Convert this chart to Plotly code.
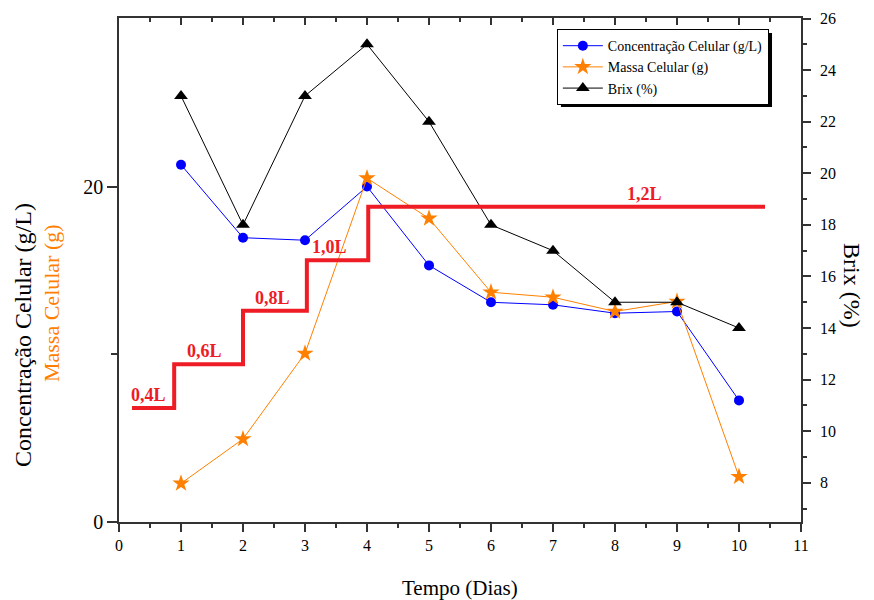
import plotly.graph_objects as go

dias = [1, 2, 3, 4, 5, 6, 7, 8, 9, 10]
concentracao = [21.3, 16.95, 16.8, 20.0, 15.3, 13.1, 12.95, 12.45, 12.55, 7.25]
massa = [2.3, 4.95, 10.05, 20.5, 18.1, 13.7, 13.4, 12.55, 13.15, 2.7]
brix = [23, 18, 23, 25, 22, 18, 17, 15, 15, 14]

volume_x = [0.21, 0.89, 2.0, 3.03, 4.02, 10.42]
volume_y = [6.8, 9.4, 12.6, 15.6, 18.8, 18.8]
volume_labels = ["0,4L", "0,6L", "0,8L", "1,0L", "1,2L"]
label_x = [0.47, 1.38, 2.47, 3.4, 8.48]
label_y = [6.8, 9.4, 12.6, 15.6, 18.8]

FONT = "Liberation Serif"
ORANGE = "#FF8000"
RED = "#EE1C25"

fig = go.Figure()

fig.add_trace(go.Scatter(
    x=volume_x, y=volume_y, mode="lines", line=dict(color=RED, width=4, shape="hv"),
    xaxis="x2", yaxis="y", showlegend=False, hoverinfo="skip"))

fig.add_trace(go.Scatter(
    x=dias, y=concentracao, name="Concentração Celular (g/L)", mode="lines+markers",
    line=dict(color="#0000FF", width=1), marker=dict(symbol="circle", size=10, color="#0000FF")))

fig.add_trace(go.Scatter(
    x=dias, y=massa, name="Massa Celular (g)", mode="lines+markers",
    line=dict(color=ORANGE, width=1), marker=dict(symbol="star", size=13, color=ORANGE)))

fig.add_trace(go.Scatter(
    x=dias, y=brix, name="Brix (%)", mode="lines+markers", yaxis="y2",
    line=dict(color="black", width=1), marker=dict(symbol="triangle-up", size=12, color="black")))

annotations = []
for lx, ly, t in zip(label_x, label_y, volume_labels):
    annotations.append(dict(x=lx, y=ly, xref="x", yref="y", text=t, showarrow=False,
                            xanchor="center", yanchor="bottom", yshift=1,
                            font=dict(family=FONT, size=18, color=RED, weight="bold")))

annotations += [
    dict(x=-0.1408, y=0.371, xref="paper", yref="paper", text="Concentração Celular (g/L)",
         xanchor="center", yanchor="middle",
         textangle=-90, showarrow=False, font=dict(family=FONT, size=24, color="black")),
    dict(x=-0.0997, y=0.4345, xref="paper", yref="paper", text="Massa Celular (g)",
         xanchor="center", yanchor="middle",
         textangle=-90, showarrow=False, font=dict(family=FONT, size=22, color=ORANGE)),
    dict(x=1.0748, y=0.47, xref="paper", yref="paper", text="Brix (%)",
         xanchor="center", yanchor="middle",
         textangle=90, showarrow=False, font=dict(family=FONT, size=24, color="black")),
    dict(x=0.5, y=-0.131, xref="paper", yref="paper", text="Tempo (Dias)",
         xanchor="center", yanchor="middle",
         showarrow=False, font=dict(family=FONT, size=21, color="black")),
]

axis_color = "#333333"

fig.update_layout(
    width=866, height=592,
    margin=dict(l=111, r=73, t=10, b=78),
    paper_bgcolor="white", plot_bgcolor="white",
    font=dict(family=FONT, color="black"),
    showlegend=True,
    legend=dict(x=0.642, y=0.978, xanchor="left", yanchor="top",
                bgcolor="white", bordercolor="black", borderwidth=1,
                font=dict(family=FONT, size=14), itemwidth=40,
                tracegroupgap=0),
    xaxis=dict(range=[0, 11], tickmode="linear", tick0=0, dtick=1, automargin=False,
               showgrid=False, zeroline=False, showline=True, linecolor=axis_color, linewidth=1.5,
               ticks="outside", ticklen=8, tickcolor=axis_color, tickwidth=1.5,
               tickfont=dict(family=FONT, size=16),
               minor=dict(dtick=0.5, ticks="outside", ticklen=4, tickcolor=axis_color, tickwidth=1.5)),
    xaxis2=dict(range=[0, 11], overlaying="x", side="top", anchor="y", tickmode="linear", tick0=0, dtick=1,
                automargin=False,
                showgrid=False, zeroline=False, showline=True, linecolor=axis_color, linewidth=1.5,
                ticks="inside", ticklen=7, tickcolor=axis_color, tickwidth=1.5, showticklabels=False,
                minor=dict(dtick=0.5, ticks="inside", ticklen=4, tickcolor=axis_color, tickwidth=1.5)),
    yaxis=dict(range=[0, 30.05], tickmode="array", tickvals=[0, 20], ticktext=["0", "20"],
               automargin=False,
               showgrid=False, zeroline=False, showline=True, linecolor=axis_color, linewidth=1.5,
               ticks="outside", ticklen=10, tickcolor=axis_color, tickwidth=1.5,
               tickfont=dict(family=FONT, size=20),
               minor=dict(tickvals=[10], ticks="outside", ticklen=6, tickcolor=axis_color, tickwidth=1.5)),
    yaxis2=dict(range=[6.48, 26.02], overlaying="y", side="right", anchor="x", tickmode="linear",
                tick0=8, dtick=2, automargin=False, ticklabelstandoff=6,
                showgrid=False, zeroline=False, showline=True, linecolor=axis_color, linewidth=1.5,
                ticks="outside", ticklen=8, tickcolor=axis_color, tickwidth=1.5,
                tickfont=dict(family=FONT, size=16),
                minor=dict(dtick=1, ticks="outside", ticklen=4, tickcolor=axis_color, tickwidth=1.5)),
    annotations=annotations,
    shapes=[dict(type="rect", xref="paper", yref="paper", x0=0.648, x1=0.9575, y0=0.8234, y1=0.970,
                 fillcolor="black", line=dict(width=0), layer="above")],
)

fig.write_html("out.html")
